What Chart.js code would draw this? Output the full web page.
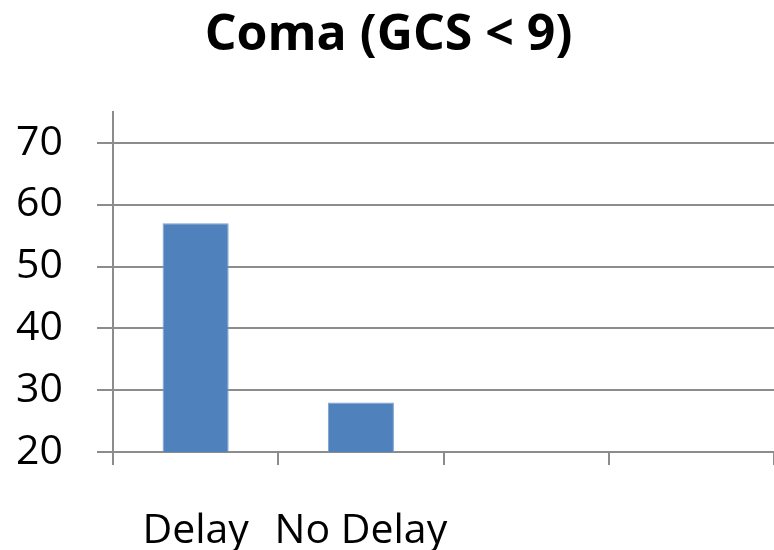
<!DOCTYPE html>
<html>
<head>
<meta charset="utf-8">
<script src="https://cdn.jsdelivr.net/npm/chart.js@4"></script>
<style>
  html, body { margin: 0; padding: 0; background: #fff; }
  #wrap { width: 774px; height: 550px; }
</style>
</head>
<body>
<div id="wrap"><canvas id="myChart"></canvas></div>
<script>
// 데이터
const categories = ["Delay", "No Delay", "", ""];
const comaValues = [57, 28, null, null];
const yTicks = [20, 30, 40, 50, 60, 70];

const gridColor = "#8c8c8c";

const ctx = document.getElementById("myChart").getContext("2d");
const myChart = new Chart(ctx, {
  type: "bar",
  data: {
    labels: categories,
    datasets: [
      {
        label: "Coma (GCS < 9)",
        data: comaValues,
        backgroundColor: "#4f81bd",
        borderColor: "#7ba0cf",
        borderWidth: 1,
        barPercentage: 0.4,
        categoryPercentage: 1,
      },
    ],
  },
  options: {
    responsive: true,
    maintainAspectRatio: false,
    animation: false,
    layout: { padding: { left: 0, right: -3, top: 0, bottom: 0 } },
    plugins: {
      legend: { display: false },
      tooltip: { enabled: false },
      title: {
        display: true,
        text: "Coma (GCS < 9)",
        color: "#000",
        font: { family: "Open Sans", size: 50, weight: "bold", lineHeight: 1.2 },
        padding: { top: 6, bottom: 46 },
      },
    },
    scales: {
      x: {
        // 축 높이 고정 (차트 영역 아래쪽 = 452px)
        afterFit: (scale) => {
          scale.height = 98;
        },
        grid: {
          display: true,
          drawOnChartArea: false,
          drawTicks: true,
          tickLength: 13,
          color: gridColor,
          lineWidth: 2,
          offset: true,
        },
        border: { display: true, color: gridColor, width: 2 },
        ticks: {
          color: "#000",
          font: { family: "Open Sans", size: 41, lineHeight: 1 },
          padding: 46,
          maxRotation: 0,
          autoSkip: false,
        },
      },
      y: {
        min: 20,
        max: 75,
        afterBuildTicks: (scale) => {
          scale.ticks = yTicks.map((v) => ({ value: v }));
        },
        // 축 폭 고정 (차트 영역 왼쪽 = 113px)
        afterFit: (scale) => {
          scale.width = 113;
        },
        grid: {
          color: gridColor,
          lineWidth: 2,
          tickLength: 16,
        },
        border: { display: true, color: gridColor, width: 2 },
        ticks: {
          color: "#000",
          font: { family: "Open Sans", size: 41, lineHeight: 1 },
          padding: 34,
        },
      },
    },
  },
});
</script>
</body>
</html>
